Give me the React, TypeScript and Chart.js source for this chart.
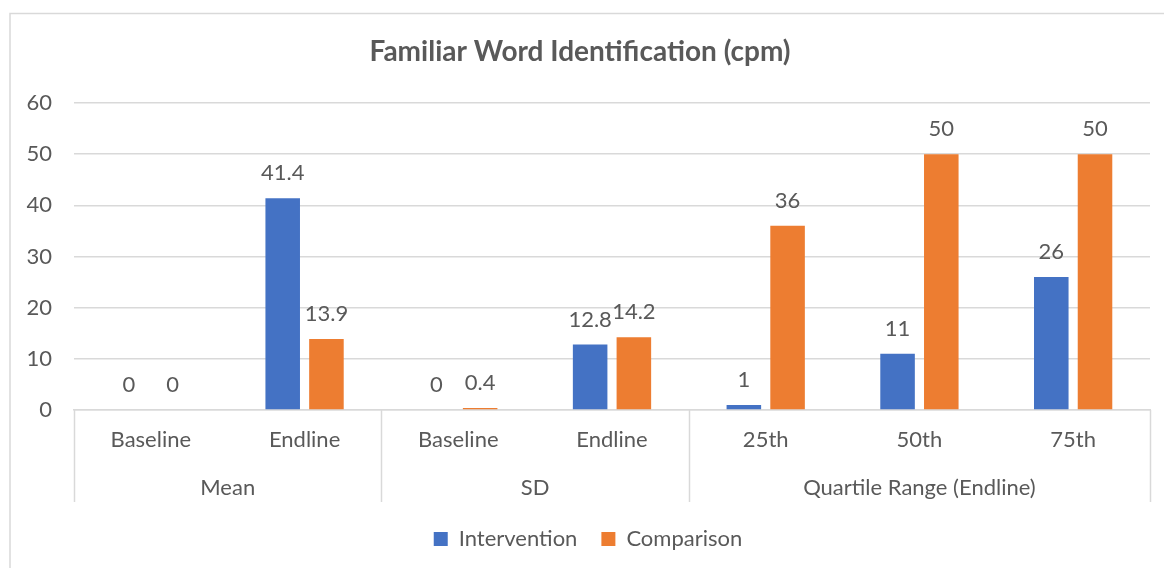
import React, { useEffect, useRef } from 'react';
import { Chart, registerables } from 'chart.js';

Chart.register(...registerables);

const categories = ['Baseline', 'Endline', 'Baseline', 'Endline', '25th', '50th', '75th'];
const groups = ['Mean', 'SD', 'Quartile Range (Endline)'];
const groupSpans = [2, 2, 3];
const intervention = [0, 41.4, 0, 12.8, 1, 11, 26];
const comparison = [0, 13.9, 0.4, 14.2, 36, 50, 50];
const yMin = 0;
const yMax = 60;
const yStep = 10;

const FONT = 'Lato, "Open Sans", sans-serif';
const FS = 22;
const TEXT = '#595959';
const GRID = '#d9d9d9';
const BLUE = '#4472C4';
const ORANGE = '#ED7D31';

const decorPlugin = {
  id: 'decor',
  afterLayout(chart: any) {
    if (chart.legend) {
      chart.legend.left += 8;
      chart.legend.right += 8;
    }
  },
  beforeDraw(chart: any) {
    const ctx = chart.ctx;
    ctx.save();
    ctx.fillStyle = '#ffffff';
    ctx.fillRect(0, 0, chart.width, chart.height);
    ctx.strokeStyle = GRID;
    ctx.lineWidth = 1.5;
    ctx.strokeRect(10, 13.5, chart.width + 40, chart.height + 40);
    ctx.restore();
  },
  afterDraw(chart: any) {
    const ctx = chart.ctx;
    const x = chart.scales.x;
    const area = chart.chartArea;
    const half = (x.getPixelForValue(1) - x.getPixelForValue(0)) / 2;
    const sepBottom = x.bottom - 2;
    ctx.save();
    ctx.strokeStyle = GRID;
    ctx.lineWidth = 1.5;
    ctx.fillStyle = TEXT;
    ctx.font = `${FS}px ${FONT}`;
    ctx.textAlign = 'center';
    ctx.textBaseline = 'middle';
    let idx = 0;
    const lines: number[] = [];
    groups.forEach((g, i) => {
      const start = idx;
      idx += groupSpans[i];
      const l = x.getPixelForValue(start) - half;
      const r = x.getPixelForValue(idx - 1) + half;
      lines.push(l);
      if (i === groups.length - 1) lines.push(r);
      ctx.fillText(g, (l + r) / 2, sepBottom - 14);
    });
    lines.forEach((lx) => {
      const px = Math.round(lx) + 0.5;
      ctx.beginPath();
      ctx.moveTo(px, area.bottom);
      ctx.lineTo(px, sepBottom);
      ctx.stroke();
    });
    ctx.restore();
  },
  afterDatasetsDraw(chart: any) {
    const ctx = chart.ctx;
    ctx.save();
    ctx.fillStyle = TEXT;
    ctx.font = `${FS}px ${FONT}`;
    ctx.textAlign = 'center';
    ctx.textBaseline = 'alphabetic';
    chart.data.datasets.forEach((ds: any, di: number) => {
      const meta = chart.getDatasetMeta(di);
      meta.data.forEach((bar: any, i: number) => {
        ctx.fillText(String(ds.data[i]), bar.x, bar.y - 18);
      });
    });
    ctx.restore();
  },
};

export default function App() {
  const ref = useRef<HTMLCanvasElement | null>(null);
  useEffect(() => {
    if (!ref.current) return;
    const chart = new Chart(ref.current, {
      type: 'bar',
      data: {
        labels: categories,
        datasets: [
          {
            label: 'Intervention',
            data: intervention,
            backgroundColor: BLUE,
            borderWidth: 0,
            categoryPercentage: 0.569,
            barPercentage: 0.79,
          },
          {
            label: 'Comparison',
            data: comparison,
            backgroundColor: ORANGE,
            borderWidth: 0,
            categoryPercentage: 0.569,
            barPercentage: 0.79,
          },
        ],
      },
      options: {
        animation: false,
        responsive: true,
        maintainAspectRatio: false,
        layout: { padding: { top: 14, left: 10, right: 14, bottom: 8 } },
        plugins: {
          title: {
            display: true,
            text: 'Familiar Word Identification (cpm)',
            color: TEXT,
            font: { family: FONT, size: 28, weight: 'bold' },
            padding: { top: 21.2, bottom: 34.2 },
          },
          legend: {
            display: true,
            position: 'bottom',
            labels: {
              boxWidth: 14,
              boxHeight: 14,
              padding: 24,
              color: TEXT,
              font: { family: FONT, size: FS },
            },
          },
          tooltip: { enabled: false },
        },
        scales: {
          x: {
            afterFit: (s: any) => {
              s.height = 94;
            },
            grid: { display: false, drawTicks: false },
            border: { display: true, color: GRID, width: 1.5 },
            ticks: { color: TEXT, font: { family: FONT, size: FS }, padding: 17 },
          },
          y: {
            min: yMin,
            max: yMax,
            afterFit: (s: any) => {
              s.width = 64;
            },
            grid: { color: GRID, lineWidth: 1.5, drawTicks: false },
            border: { display: false },
            ticks: { stepSize: yStep, color: TEXT, font: { family: FONT, size: FS }, padding: 22 },
          },
        },
      },
      plugins: [decorPlugin],
    });
    return () => chart.destroy();
  }, []);
  return (
    <div style={{ position: 'fixed', left: 0, top: 0, width: 1164, height: 568, overflow: 'hidden', background: '#fff' }}>
      <canvas ref={ref} />
    </div>
  );
}
